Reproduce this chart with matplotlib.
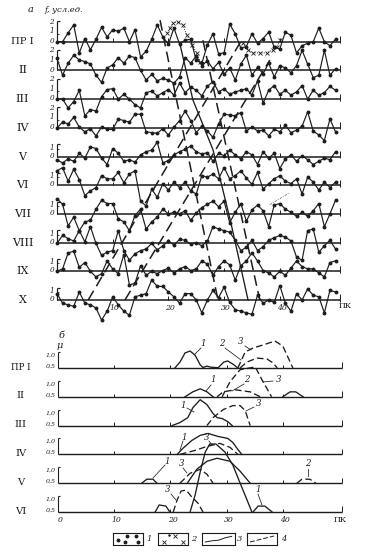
import numpy as np
import matplotlib

matplotlib.use("Agg")
import matplotlib.pyplot as plt

plt.rcParams["font.family"] = ["DejaVu Serif"]

W, H, DPI = 378, 556, 100
INK = "#1d1d1d"

# ── Panel a: f (conv. units) along the profiles, one value per picket ────────
PK = np.arange(0, 51)
ROWS_A = ["ПР I", "II", "III", "IV", "V", "VI", "VII", "VIII", "IX", "X"]
F_PR1 = [0.0, 0.0, 1.1, 2.1, -1.4, 0.4, -1.0, 0.3, 1.8, 0.6, 1.5, 1.3, 1.7, 0.0, 1.5, -1.9, -1.2,
         0.3, 2.1, 0.6, -0.3, 1.7, -0.3, 0.2, 0.3, -2.3, -2.7, -0.4, 1.0, -1.5, -1.4, 2.2, 1.0,
         -0.8, -0.6, 1.0, -0.2, 0.4, 1.2, -0.7, -0.9, 1.2, 0.8, -1.4, -0.5, -0.2, 0.0, 1.7, 0.0,
         -0.5, 0.3]
F_II = [1.5, -0.6, 0.9, 1.9, 1.3, 1.1, 0.8, -0.6, -1.5, 0.3, 0.7, 1.6, 0.9, 1.8, 1.6, 0.0, -1.2,
        -0.5, -1.3, -1.0, -1.2, -1.6, -0.8, 1.6, 0.9, 1.8, 0.6, 1.2, 0.2, 1.0, -0.5, 0.3, -1.2,
        0.8, 1.9, -0.6, 0.4, -0.4, 0.9, -0.8, 0.6, 0.3, -0.3, 0.6, 2.5, 0.8, -0.9, -0.6, 2.5,
        -0.6, 0.2]
F_III = [0.0, 0.0, -1.1, -0.3, 1.1, -2.1, -1.3, -1.5, 0.3, 1.2, 1.3, 0.0, 0.6, 0.0, -0.7, -1.1,
         0.8, 1.0, 0.4, 0.8, 1.2, 0.5, 2.0, 0.8, 1.5, 1.1, 0.4, 1.6, 2.2, 0.9, 1.3, 0.6, 0.9, 1.1,
         1.3, 0.5, 2.3, -0.5, 1.1, 1.7, 0.6, 1.1, 0.5, 0.9, 1.7, 0.0, 1.1, 0.5, 0.8, 1.6, 1.1]
F_IV = [0.0, 0.7, 0.5, 1.3, 0.1, -0.5, -0.1, -1.0, 0.1, -0.2, -0.2, 1.1, 0.9, 0.7, 1.7, 1.7, -0.5,
        -0.6, -0.7, -0.1, -0.9, 0.1, 0.9, 2.1, 0.9, -0.6, 0.2, -0.4, -1.2, 0.5, 1.7, 1.6, 1.5,
        1.9, -0.4, 0.1, -0.4, -0.3, -1.0, -0.2, -0.5, 0.3, -0.6, -0.3, 0.2, 2.0, -0.4, -0.9, -1.6,
        1.1, -0.5]
F_V = [-0.4, -0.8, -0.3, -0.6, 0.4, -0.2, 1.2, 1.0, -0.2, -1.0, 1.0, 0.4, -0.6, -0.4, -0.7, 0.2,
       0.6, 0.8, 1.8, -0.8, -0.5, 0.2, 0.6, 0.9, 1.3, 0.6, 0.3, 0.5, -0.6, 0.4, 0.1, 0.8, 0.2,
       -0.3, 0.6, 0.2, -1.0, 0.6, -0.2, 0.4, -1.5, -0.3, 0.2, -0.6, 0.1, -0.4, -1.0, -0.6, -0.2,
       -0.4, 0.6]
F_VI = [1.8, 2.2, 0.5, 2.0, 0.7, -1.3, -0.7, -0.3, 1.2, 0.8, 0.8, 1.6, 0.3, 1.4, 1.8, -2.0, -2.6,
        -0.5, -1.5, 0.2, -0.6, 0.4, -0.3, 0.4, -0.7, -1.1, 1.2, 1.0, 1.4, 0.8, 2.2, 0.8, 1.2, 1.8,
        0.9, 0.1, 1.6, -0.5, 0.2, 0.8, 1.2, 0.5, 0.2, 0.8, -1.1, 1.0, 0.4, -0.6, 0.4, -0.3, 0.4]
F_VII = [1.9, 1.2, -1.5, -0.4, -2.1, -1.0, -0.8, 0.6, 1.7, 1.3, 1.3, -0.6, -1.0, -2.1, -0.2, 0.6,
         -1.9, -1.0, -0.4, 0.6, 0.0, 0.2, 0.0, 0.4, -0.8, 0.1, 0.8, 1.2, 1.6, 0.9, 1.6, -1.1, 0.2,
         1.3, -0.9, 0.5, 1.1, 0.4, -1.6, 1.1, 1.3, 0.6, 0.2, -0.3, 0.2, -0.3, 0.4, 1.3, -1.6, 0.0,
         1.7]
F_VIII = [-0.1, 0.9, 0.5, 0.2, 1.5, 0.1, 2.0, -0.1, -1.6, -1.2, -1.0, 1.5, -1.0, -2.2, -1.4, -1.0,
          -0.8, -0.1, -0.9, -0.4, 0.2, -0.3, 0.4, 0.3, -0.2, 0.0, -0.4, 0.2, 2.0, 1.7, 1.5, 1.3,
          0.3, -1.0, -0.6, 0.3, -1.0, -0.5, 0.3, 0.6, 0.9, 0.7, 0.2, -1.8, -2.2, 1.5, 1.7, -1.2,
          -0.4, 0.3, -0.8]
F_IX = [0.0, 0.3, 2.3, 2.5, 0.5, 1.1, 0.0, -0.7, -0.3, 1.3, 0.3, -0.3, 2.1, -1.7, -1.5, 0.7, -0.5,
        0.0, -0.3, 0.1, 0.4, -0.2, 0.3, 0.6, 0.1, 0.3, 1.3, 0.9, -0.5, 0.6, 1.3, 0.8, -1.1, 0.7,
        1.3, 2.3, 1.3, 0.1, -0.2, -0.7, 0.0, -0.5, 0.4, 1.3, 0.6, 0.3, 0.3, -0.2, -0.7, 1.1, 1.3]
F_X = [0.8, -0.4, -0.6, -0.8, 1.0, -0.4, -0.6, -1.0, -2.5, -1.4, 0.4, -0.6, -1.4, -1.9, 0.4, 0.6,
       0.8, 2.5, 1.7, 1.7, 1.0, 0.4, -0.4, 0.8, 0.8, 0.0, -1.6, 0.0, 1.2, 0.3, 1.6, -0.3, -1.2,
       -1.4, -1.6, -1.8, 0.6, -0.4, 0.0, -0.3, 1.8, -0.4, -1.4, 0.8, 0.0, 1.4, 0.6, 0.4, -1.6,
       1.2, 1.0]
SERIES_A = [F_PR1, F_II, F_III, F_IV, F_V, F_VI, F_VII, F_VIII, F_IX, F_X]
TOP_LABEL_A = [2, 2, 2, 2, 1, 1, 1, 1, 1, 1]     # highest scale label on each profile
X_TICKS_A = [10, 20, 30, 40]

# type 2 (crosses) on profile ПР I: picket, f
CROSS1_PK = [19.7, 20.3, 20.8, 21.7, 22.6, 23.3, 24.2, 25.1, 25.7]
CROSS1_F = [1.1, 1.7, 2.3, 2.5, 2.1, 0.8, -0.4, -1.4, -2.5]
CROSS2_PK = [33.4, 34.3, 35.2, 36.4, 37.7, 38.8, 39.5, 40.0]
CROSS2_F = [-0.2, -1.0, -1.4, -1.4, -1.4, -1.0, -0.7, 0.2]

# correlation lines across profiles: picket, profile position (0 = ПР I, 9 = X)
DASH_LINES = [
    ([18.5, 28.9], [-0.75, 9.0]),
    ([26.2, 36.4], [-0.05, 9.0]),
    ([5.6, 33.4], [9.0, -0.14]),
    ([12.2, 38.2], [9.0, 0.64]),
]
SOLID_LINE = ([22.1, 24.4, 28.0, 31.1, 34.3], [0.11, 2.03, 3.76, 6.21, 9.0])
DOT_LINE = ([38.2, 41.8], [5.68, 5.26])

# ── Panel б: membership μ along the profiles ─────────────────────────────────
ROWS_B = ["ПР I", "II", "III", "IV", "V", "VI"]
X_TICKS_B = [0, 10, 20, 30, 40]
CURVES_B = [
    (0, "-", [20.8, 21.7, 22.6, 23.5, 24.4, 25.3, 25.8, 26.5, 27.2, 28.5, 29.5, 30.2, 31.3, 32.0],
     [0, 0.37, 0.94, 1.06, 0.8, 0.2, 0.03, 0.12, 0.05, 0.02, 0.37, 0.44, 0.2, 0]),
    (0, "--", [32.4, 33.6, 35.4, 37.2, 38.3, 39.0], [0, 0.37, 0.62, 0.56, 0.31, 0]),
    (0, "--", [32.0, 33.3, 34.7, 36.5, 38.6, 40.0, 41.8], [0, 1.0, 1.25, 1.44, 1.69, 1.37, 0]),
    (1, "-", [22.6, 24.0, 25.3, 26.5, 27.6], [0, 0.31, 0.5, 0.31, 0]),
    (1, "--", [28.3, 29.4, 31.5, 34.2, 36.0], [0, 0.31, 0.44, 0.31, 0]),
    (1, "--", [29.2, 30.6, 32.4, 35.1, 36.3, 37.7, 38.0], [0, 0.94, 1.69, 1.87, 1.06, 0.19, 0]),
    (1, "-", [40.0, 41.3, 42.3, 43.6], [0, 0.31, 0.31, 0]),
    (2, "-", [20.3, 21.7, 23.1, 24.0, 25.3, 26.5, 27.6, 28.3, 29.2, 30.2, 31.0],
     [0, 0.19, 0.5, 1.12, 1.62, 1.31, 0.75, 0.5, 0.44, 0.25, 0]),
    (2, "--", [26.5, 27.6, 29.4, 31.1, 32.4, 33.3, 34.2], [0, 0.5, 1.0, 1.25, 1.25, 0.94, 0]),
    (3, "-", [21.2, 22.2, 23.8, 25.3, 26.7, 28.5, 30.2, 31.1, 32.0, 32.7],
     [0, 0.37, 0.87, 1.19, 1.31, 1.12, 1.0, 0.75, 0.31, 0]),
    (3, "--", [21.7, 24.4, 26.5, 28.8, 30.6, 32.0], [0, 0.25, 0.5, 0.69, 0.44, 0]),
    (4, "-", [14.9, 15.8, 16.9, 17.6], [0, 0.25, 0.25, 0]),
    (4, "--", [21.7, 23.5, 25.3, 26.5, 27.6], [0, 0.62, 0.87, 0.56, 0]),
    (4, "-", [23.0, 24.7, 26.5, 28.3, 30.6, 32.4, 34.2], [0, 0.87, 1.37, 1.56, 1.37, 0.75, 0]),
    (4, "--", [42.5, 43.4, 44.8, 45.9], [0, 0.25, 0.25, 0]),
    (5, "-", [17.3, 18.0, 19.2, 19.9], [0, 0.44, 0.37, 0]),
    (5, "--", [20.5, 21.2, 21.9, 22.8, 23.8, 24.9, 25.8], [0, 0.75, 1.31, 1.37, 0.94, 0.56, 0]),
    (5, "-", [23.5, 24.4, 25.3, 26.2, 27.0, 28.1, 29.7, 31.1, 32.4, 33.5, 34.5],
     [0, 1.06, 2.5, 3.75, 4.25, 4.25, 3.75, 2.94, 1.81, 0.87, 0]),
    (5, "-", [34.7, 35.6, 36.8, 38.1], [0, 0.37, 0.37, 0]),
]
# curve numbers: text, text pixel, leader start pixel, leader end pixel
CURVE_LABELS = [
    ("1", (203, 343), (201, 348), (195, 354)),
    ("2", (222, 343), (225, 348), (241, 360)),
    ("3", (241, 341), (245, 346), (251, 350)),
    ("1", (213, 380), (211, 385), (206, 391)),
    ("2", (247, 380), (244, 384), (232, 391)),
    ("3", (279, 380), (273, 381), (263, 382)),
    ("1", (183, 406), (187, 408), (194, 412)),
    ("3", (259, 404), (254, 407), (246, 411)),
    ("1", (184, 437), (183, 441), (180, 450)),
    ("3", (207, 437), (209, 441), (212, 445)),
    ("1", (167, 461), (165, 465), (153, 478)),
    ("3", (182, 464), (183, 468), (187, 473)),
    ("2", (308, 464), (308, 469), (308, 476)),
    ("3", (168, 490), (171, 494), (176, 500)),
    ("1", (258, 490), (258, 494), (262, 505)),
]

LEGEND_NUMS = ["1", "2", "3", "4"]

# ── geometry (pixels of the 378x556 sheet) ───────────────────────────────────
A_X0, A_DX = 57.0, 5.57          # picket 0 and px per picket, panel a
A_Y0, A_DY = 41.7, 8.0           # baseline of ПР I and px per unit f
A_STEP = 28.7 / A_DY             # profile spacing in f units
B_X0, B_DX = 58.0, 5.62
B_Y0, B_DY = 368.0, 16.0
B_STEP = 28.8 / B_DY
SPLIT = 325.0                    # px boundary between panels

fig = plt.figure(figsize=(W / DPI, H / DPI), dpi=DPI)
fig.patch.set_facecolor("white")


def ftext(x, y, s, **kw):
    fig.text(x / W, 1 - y / H, s, color=INK, **kw)


# ── panel a ──────────────────────────────────────────────────────────────────
axa = fig.add_axes([0, 1 - SPLIT / H, 1, SPLIT / H])
axa.set_xlim(-A_X0 / A_DX, (W - A_X0) / A_DX)
axa.set_ylim(-(SPLIT - A_Y0) / A_DY, A_Y0 / A_DY)
axa.axis("off")
PK_END = (340 - A_X0) / A_DX

for i, (name, vals, top) in enumerate(zip(ROWS_A, SERIES_A, TOP_LABEL_A)):
    base = -i * A_STEP
    axa.hlines(base, 0, PK_END, color=INK, lw=1.1, zorder=2)
    axa.vlines(X_TICKS_A, base, base + 0.45, color=INK, lw=0.7)
    axa.vlines(PK_END, base - 0.2, base + 0.7, color=INK, lw=0.7)
    htop = top + 0.55
    axa.vlines(0, base, base + htop, color=INK, lw=0.85)
    axa.hlines(base + htop, 0, 0.45, color=INK, lw=0.85)
    axa.hlines(base + 1, 0, 0.35, color=INK, lw=0.6)
    for lv in range(top + 1):
        ly = base + (lv * 1.2 if top == 2 else lv * 1.0) + 0.1
        axa.text(-0.55, ly, str(lv), ha="right", va="center", fontsize=5.2,
                 style="italic", color=INK)
    axa.plot(PK, base + np.array(vals), color=INK, lw=0.85, marker="o", ms=1.8,
             zorder=3)
    axa.text(-6.2, base, name, ha="center", va="center",
             fontsize=7.2 if i == 0 else 8, color=INK)

axa.plot(CROSS1_PK, CROSS1_F, color=INK, ls=(0, (1.2, 1.5)), lw=0.6, marker="x", ms=2.2,
         mew=0.6, zorder=4)
axa.plot(CROSS2_PK, CROSS2_F, color=INK, ls=(0, (1.2, 1.5)), lw=0.6, marker="x", ms=2.2,
         mew=0.6, zorder=4)
for xs, rows in DASH_LINES:
    axa.plot(xs, -np.array(rows) * A_STEP, color=INK, lw=1.1, ls=(0, (7, 3.5)), zorder=4)
axa.plot(SOLID_LINE[0], -np.array(SOLID_LINE[1]) * A_STEP, color=INK, lw=0.95, zorder=4)
axa.plot(DOT_LINE[0], -np.array(DOT_LINE[1]) * A_STEP, color="#777777", lw=0.6,
         ls=(0, (3, 1.5, 1, 1.5)), zorder=4)

xb = -(len(ROWS_A) - 1) * A_STEP
for t in X_TICKS_A:
    axa.text(t + 0.3, xb - 0.95, str(t), ha="center", va="center", fontsize=5.6,
             style="italic", color=INK)
axa.text(PK_END + 0.9, xb - 0.7, "ПК", ha="center", va="center", fontsize=5.8, color=INK)

ftext(31, 10, "а", fontsize=7, style="italic", va="center", ha="center")
ftext(45, 10, "f, усл.ед.", fontsize=6, style="italic", va="center", ha="left")

# ── panel б ──────────────────────────────────────────────────────────────────
axb = fig.add_axes([0, 0, 1, (H - SPLIT) / H])
axb.set_xlim(-B_X0 / B_DX, (W - B_X0) / B_DX)
axb.set_ylim(-(H - B_Y0) / B_DY, (B_Y0 - SPLIT) / B_DY)
axb.axis("off")
PK_END_B = (342 - B_X0) / B_DX

for i, name in enumerate(ROWS_B):
    base = -i * B_STEP
    axb.hlines(base, 0, PK_END_B, color=INK, lw=1.0, zorder=2)
    axb.vlines(X_TICKS_B[1:], base, base + 0.2, color=INK, lw=0.7)
    axb.vlines(PK_END_B, base, base + 0.35, color=INK, lw=0.7)
    axb.vlines(0, base, base + 1.0, color=INK, lw=0.8)
    axb.hlines(base + 1.0, 0, 0.4, color=INK, lw=0.8)
    axb.text(-0.45, base + 0.8, "1,0", ha="right", va="center", fontsize=4.6,
             style="italic", color=INK)
    axb.text(-0.45, base + 0.12, "0,5", ha="right", va="center", fontsize=4.6,
             style="italic", color=INK)
    axb.text(-6.6, base + 0.05, name, ha="center", va="center",
             fontsize=6.3 if i == 0 else 7.2, color=INK)

for row, ls, xs, mu in CURVES_B:
    axb.plot(xs, -row * B_STEP + np.array(mu), color=INK, lw=0.95,
             ls=(0, (5, 2.5)) if ls == "--" else "-", zorder=3)


def b_xy(p):
    return (p[0] - B_X0) / B_DX, (B_Y0 - p[1]) / B_DY


for s, tp, l0, l1 in CURVE_LABELS:
    tx, ty = b_xy(tp)
    axb.text(tx, ty, s, ha="center", va="center", fontsize=6.2, style="italic", color=INK)
    (x0, y0), (x1, y1) = b_xy(l0), b_xy(l1)
    axb.plot([x0, x1], [y0, y1], color=INK, lw=0.55)

xbb = -(len(ROWS_B) - 1) * B_STEP
for t in X_TICKS_B:
    axb.text(t + 0.4, xbb - 0.5, str(t), ha="center", va="center", fontsize=5.6,
             style="italic", color=INK)
axb.text(PK_END_B - 0.3, xbb - 0.5, "ПК", ha="center", va="center", fontsize=5.8, color=INK)

ftext(62, 335, "б", fontsize=7, style="italic", va="center", ha="center")
ftext(60, 346, "μ", fontsize=7, style="italic", va="center", ha="center")

# ── legend ───────────────────────────────────────────────────────────────────
BOX_PX = [(113, 143), (158, 188), (202, 235), (247, 277)]
NUM_PX = [149, 194, 240, 284]
for k, ((x0, x1), nx, num) in enumerate(zip(BOX_PX, NUM_PX, LEGEND_NUMS)):
    lax = fig.add_axes([x0 / W, 1 - 545 / H, (x1 - x0) / W, 12 / H])
    lax.set_xlim(0, 1)
    lax.set_ylim(0, 1)
    lax.set_xticks([])
    lax.set_yticks([])
    for sp in lax.spines.values():
        sp.set_linewidth(0.8)
        sp.set_color(INK)
    if k == 0:
        lax.plot([0.15, 0.45, 0.75, 0.4, 0.82], [0.4, 0.78, 0.72, 0.22, 0.25], "o",
                 color=INK, ms=1.8)
    elif k == 1:
        lax.plot([0.2, 0.55, 0.82], [0.25, 0.72, 0.25], "x", color=INK, ms=2.6, mew=0.6)
        lax.plot([0.38], [0.8], "o", color=INK, ms=0.8)
    elif k == 2:
        lax.plot([0.1, 0.3, 0.5, 0.7, 0.9], [0.25, 0.35, 0.4, 0.6, 0.72], color=INK, lw=0.7)
    else:
        lax.plot([0.1, 0.9], [0.25, 0.75], color=INK, lw=0.7, ls=(0, (5, 2)))
    ftext(nx, 539, num, fontsize=6, style="italic", va="center", ha="center")

fig.savefig("out.png", dpi=DPI, facecolor="white")
